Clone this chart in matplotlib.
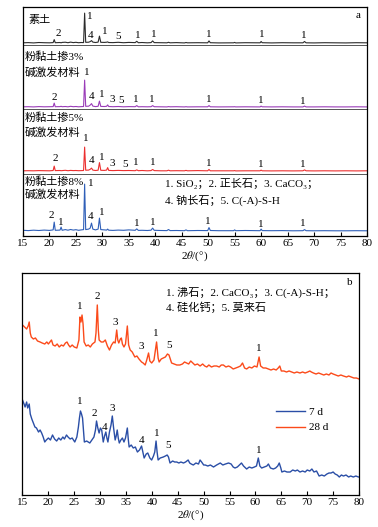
import matplotlib
matplotlib.use('Agg')
import matplotlib.pyplot as plt
import numpy as np

plt.rcParams['font.family'] = ['Liberation Serif', 'Noto Sans CJK SC', 'DejaVu Sans']
plt.rcParams['mathtext.fontset'] = 'stix'

# ---- panel a: XRD patterns (peak height above each baseline) ----
two_theta_a = [15, 16, 17, 18, 19, 20, 20.7, 20.9, 21.1, 22.0,
               22.2, 22.4, 23.0, 23.5, 24.0, 24.5, 25.0, 25.5, 26.0, 26.45,
               26.65, 26.85, 27.4, 27.7, 27.95, 28.2, 28.7, 29.2, 29.45, 29.7,
               30.4, 30.8, 31.0, 31.2, 32.0, 33.0, 34.0, 35.0, 36.2, 36.5,
               36.8, 37.5, 38.5, 39.2, 39.5, 39.8, 41.0, 42.2, 42.5, 42.8,
               44.0, 45.5, 45.8, 46.1, 48.0, 49.9, 50.15, 50.4, 52.0, 54.8,
               55.0, 55.2, 57.0, 59.8, 60.0, 60.2, 62.0, 64.0, 66.0, 67.9,
               68.2, 68.5, 70.0, 72.0, 74.0, 76.0, 78.0, 80.0]

soil = [0.3, 0.5, 0.2, 0.6, 0.4, 0.3, 0.5, 3.5, 0.4, 0.6,
        0.3, 0.7, 0.9, 0.4, 1.0, 0.5, 0.8, 0.4, 0.6, 0.5,
        30, 0.8, 0.9, 1.5, 2.5, 1.0, 0.6, 1.0, 7.0, 0.8,
        0.7, 0.9, 1.2, 0.6, 0.5, 0.8, 0.4, 0.7, 0.5, 1.8,
        0.4, 0.6, 0.3, 0.5, 2.2, 0.5, 0.4, 0.3, 0.8, 0.3,
        0.5, 0.2, 0.6, 0.3, 0.4, 0.3, 2.2, 0.4, 0.2, 0.3,
        0.7, 0.2, 0.4, 0.3, 1.6, 0.4, 0.2, 0.4, 0.3, 0.3,
        1.6, 0.3, 0.2, 0.4, 0.3, 0.2, 0.4, 0.3]

mix3 = [0.3, 0.4, 0.2, 0.5, 0.3, 0.4, 0.5, 4.0, 0.4, 0.5,
        0.8, 0.4, 0.6, 0.3, 0.8, 0.4, 0.6, 0.3, 0.5, 0.6,
        27, 0.8, 0.9, 2.0, 3.5, 1.0, 0.5, 0.8, 6.0, 0.7,
        0.6, 0.8, 2.2, 0.6, 0.4, 0.6, 0.3, 0.5, 0.4, 1.5,
        0.3, 0.4, 0.3, 0.4, 1.5, 0.4, 0.3, 0.2, 0.5, 0.3,
        0.4, 0.2, 0.4, 0.2, 0.3, 0.3, 1.5, 0.3, 0.2, 0.3,
        0.4, 0.2, 0.3, 0.2, 1.0, 0.3, 0.2, 0.3, 0.2, 0.2,
        1.0, 0.2, 0.2, 0.3, 0.2, 0.2, 0.3, 0.2]

mix5 = [0.3, 0.4, 0.3, 0.5, 0.4, 0.3, 0.6, 5.0, 0.5, 0.6,
        0.4, 0.5, 0.8, 0.4, 0.7, 0.5, 0.6, 0.4, 0.5, 0.6,
        24, 0.9, 1.0, 1.8, 3.0, 1.0, 0.6, 0.9, 8.5, 0.8,
        0.7, 1.0, 3.5, 0.7, 0.5, 0.7, 0.5, 0.6, 0.4, 1.2,
        0.4, 0.6, 0.3, 0.5, 1.6, 0.5, 0.3, 0.3, 0.9, 0.3,
        0.4, 0.3, 0.7, 0.3, 0.5, 0.3, 1.6, 0.3, 0.3, 0.3,
        0.5, 0.2, 0.3, 0.3, 1.0, 0.3, 0.2, 0.3, 0.2, 0.3,
        1.2, 0.3, 0.2, 0.3, 0.2, 0.3, 0.2, 0.3]

mix8 = [0.8, 0.5, 0.9, 0.6, 1.0, 0.7, 1.2, 9.0, 0.8, 1.0,
        4.0, 0.8, 1.5, 0.9, 1.6, 1.0, 1.4, 0.8, 1.2, 1.5,
        47, 1.5, 2.0, 3.0, 8.0, 2.0, 1.2, 2.0, 13.0, 1.5,
        1.2, 1.0, 2.0, 0.9, 0.7, 1.0, 0.8, 1.2, 0.8, 2.2,
        0.7, 0.8, 0.6, 0.9, 3.0, 0.8, 0.6, 0.5, 1.6, 0.5,
        0.6, 0.4, 1.2, 0.4, 0.6, 0.5, 3.5, 0.6, 0.4, 0.4,
        1.2, 0.4, 0.6, 0.4, 2.0, 0.5, 0.4, 0.5, 0.3, 0.4,
        1.5, 0.4, 0.3, 0.4, 0.3, 0.3, 0.4, 0.3]

# ---- panel b: (2theta, intensity) ----
day28 = [(15.0, 170), (15.4, 168), (15.8, 166), (16.1, 169), (16.3, 173), (16.5, 162),
         (16.7, 158), (17.1, 156), (17.5, 157), (17.9, 154), (18.4, 153), (18.8, 152),
         (19.3, 151), (19.7, 153), (20.0, 151), (20.3, 153), (20.6, 155), (20.9, 150),
         (21.3, 149), (21.7, 151), (22.1, 148), (22.5, 150), (22.9, 149), (23.3, 152),
         (23.6, 153), (23.9, 150), (24.2, 148), (24.6, 150), (25.0, 148), (25.5, 147),
         (25.9, 155), (26.1, 178), (26.3, 173), (26.5, 180), (26.7, 171), (26.9, 153),
         (27.3, 149), (27.7, 150), (28.1, 148), (28.5, 151), (29.0, 153), (29.2, 162),
         (29.45, 190), (29.65, 165), (29.8, 155), (30.2, 153), (30.6, 153), (31.0, 155),
         (31.4, 149), (31.8, 145), (32.2, 150), (32.6, 153), (32.9, 152), (33.2, 165),
         (33.4, 155), (33.6, 152), (33.9, 156), (34.1, 157), (34.3, 151), (34.6, 148),
         (34.9, 151), (35.25, 169), (35.5, 150), (35.8, 145), (36.2, 143), (36.7, 138),
         (37.1, 139), (37.5, 136), (38.0, 133), (38.3, 132), (38.7, 130), (39.0, 135),
         (39.35, 142), (39.6, 134), (39.95, 132), (40.4, 135), (40.9, 153), (41.2, 137),
         (41.4, 133), (41.8, 136), (42.2, 137), (42.6, 138), (43.0, 141), (43.3, 140),
         (43.6, 135), (43.8, 132), (44.3, 131), (44.8, 130), (45.4, 130), (45.9, 131),
         (46.3, 133), (46.7, 132), (47.1, 131), (47.5, 134), (47.9, 132), (48.3, 130),
         (48.8, 131), (49.3, 129), (49.8, 131), (50.2, 129), (50.6, 128), (51.0, 130),
         (51.5, 128), (52.0, 129), (52.5, 129), (53.0, 128), (53.4, 130), (53.8, 130),
         (54.3, 128), (54.8, 129), (55.2, 128), (55.7, 126), (56.2, 127), (56.7, 128),
         (57.1, 129), (57.5, 132), (57.9, 127), (58.3, 126), (58.8, 128), (59.3, 127),
         (59.8, 129), (60.3, 128), (60.7, 138), (61.0, 129), (61.5, 127), (62.0, 127),
         (62.5, 126), (63.0, 125), (63.5, 126), (64.0, 125), (64.4, 127), (64.7, 129),
         (65.0, 124), (65.5, 124), (66.0, 123), (66.5, 124), (67.0, 123), (67.5, 122),
         (68.0, 123), (68.6, 122), (69.1, 123), (69.6, 122), (70.1, 123), (70.5, 124),
         (70.8, 123), (71.2, 122), (71.7, 121), (72.2, 122), (72.7, 121), (73.2, 120),
         (73.7, 121), (74.2, 120), (74.6, 122), (75.0, 121), (75.5, 120), (76.0, 119),
         (76.5, 120), (77.0, 119), (77.6, 118), (78.0, 119), (78.5, 118), (79.0, 117),
         (79.5, 117), (80.0, 116)]

day7 = [(15.0, 95), (15.3, 91), (15.5, 88), (15.8, 93), (16.0, 87), (16.3, 91),
        (16.5, 81), (16.8, 76), (17.1, 72), (17.4, 68), (17.7, 67), (18.1, 63),
        (18.4, 65), (18.7, 62), (19.0, 58), (19.3, 53), (19.6, 55), (20.0, 57),
        (20.4, 55), (20.8, 60), (21.2, 56), (21.6, 54), (22.0, 57), (22.4, 55),
        (22.8, 58), (23.1, 56), (23.5, 60), (23.8, 58), (24.2, 56), (24.6, 57),
        (25.1, 53), (25.5, 58), (25.8, 68), (26.0, 77), (26.2, 84), (26.4, 81),
        (26.6, 77), (26.8, 63), (26.95, 53), (27.4, 54), (28.0, 52), (28.4, 55),
        (28.8, 58), (29.1, 65), (29.3, 74), (29.55, 67), (29.8, 62), (30.05, 67),
        (30.3, 65), (30.6, 53), (30.85, 59), (31.1, 63), (31.3, 57), (31.5, 53),
        (31.8, 63), (32.1, 70), (32.35, 79), (32.6, 67), (32.9, 55), (33.1, 59),
        (33.3, 65), (33.5, 57), (33.7, 52), (34.0, 55), (34.3, 57), (34.6, 53),
        (34.9, 57), (35.25, 67), (35.45, 55), (35.6, 48), (36.0, 50), (36.4, 47),
        (36.8, 48), (37.2, 43), (37.6, 45), (38.0, 49), (38.25, 43), (38.5, 37),
        (38.9, 41), (39.2, 42), (39.6, 37), (39.95, 35), (40.3, 39), (40.55, 43),
        (40.8, 54), (41.0, 43), (41.2, 35), (41.6, 37), (42.2, 38), (42.6, 39),
        (42.95, 40), (43.2, 38), (43.5, 32), (44.0, 34), (44.4, 33), (44.8, 33),
        (45.2, 32), (45.6, 33), (46.1, 32), (46.5, 33), (47.0, 35), (47.3, 32),
        (47.6, 31), (48.0, 30), (48.5, 32), (49.0, 31), (49.3, 35), (49.6, 33),
        (50.0, 30), (50.3, 30), (50.8, 29), (51.3, 30), (51.9, 28), (52.5, 30),
        (53.2, 32), (53.7, 30), (54.2, 31), (54.8, 32), (55.3, 31), (55.7, 28),
        (56.05, 27), (56.5, 28), (56.9, 30), (57.3, 32), (57.7, 29), (58.3, 26),
        (58.8, 28), (59.3, 27), (59.8, 28), (60.2, 29), (60.55, 37), (60.85, 29),
        (61.2, 27), (61.7, 28), (62.2, 29), (62.5, 31), (62.9, 27), (63.45, 26),
        (63.9, 27), (64.3, 29), (64.6, 32), (64.9, 27), (65.1, 23), (65.6, 24),
        (66.1, 23), (66.7, 23), (67.2, 25), (67.7, 24), (68.1, 25), (68.6, 23),
        (69.1, 24), (69.6, 23), (70.0, 25), (70.5, 24), (70.9, 26), (71.3, 23),
        (71.8, 24), (72.3, 19), (72.8, 20), (73.3, 19), (73.8, 21), (74.2, 22),
        (74.6, 22), (75.0, 23), (75.4, 21), (75.8, 20), (76.2, 18), (76.6, 20),
        (77.0, 19), (77.5, 20), (78.0, 18), (78.4, 19), (78.9, 18), (79.4, 19),
        (79.9, 18), (80.0, 18)]

xticks = list(range(15, 81, 5))
FS = 8

fig = plt.figure(figsize=(3.78, 5.27), dpi=100)

# ================= panel a =================
ax = fig.add_axes([0.0608, 0.552, 0.910, 0.4345])
baselines = [193, 129, 65, 5]
colors_a = ['#2b2b2b', '#9a3cb8', '#ec2f2f', '#2f5fb8']
for ys, base, c in zip([soil, mix3, mix5, mix8], baselines, colors_a):
    ax.plot(two_theta_a, np.array(ys) + base, color=c, lw=0.8)
for sep in [191, 127, 62]:
    ax.axhline(sep, color='#555555', lw=0.7)

peak_labels_a = [
    # (2theta, y, text)
    [(27.7, 220, '1'), (21.6, 203, '2'), (27.85, 201, '4'), (30.5, 205, '1'),
     (32.95, 200, '5'), (36.7, 201, '1'), (39.75, 202, '1'), (50.1, 202, '1'),
     (60.2, 202, '1'), (68.1, 201, '1')],
    [(27.1, 164, '1'), (21.0, 139, '2'), (28.0, 140, '4'), (29.9, 142, '1'),
     (31.9, 137, '3'), (33.6, 136, '5'), (36.4, 137, '1'), (39.4, 137, '1'),
     (50.1, 137, '1'), (59.9, 136, '1'), (67.9, 135, '1')],
    [(26.9, 98, '1'), (21.2, 78, '2'), (28.0, 76, '4'), (29.8, 79, '1'),
     (31.8, 73, '3'), (34.3, 72, '5'), (36.4, 74, '1'), (39.6, 74, '1'),
     (50.1, 73, '1'), (59.9, 72, '1'), (67.9, 72, '1')],
    [(27.8, 53, '1'), (20.3, 21, '2'), (22.2, 14, '1'), (27.8, 20, '4'),
     (29.9, 24, '1'), (36.5, 13, '1'), (39.5, 14, '1'), (50.0, 15, '1'),
     (59.9, 12, '1'), (67.9, 13, '1')],
]
for labs in peak_labels_a:
    for x, y, t in labs:
        ax.text(x, y, t, fontsize=FS, ha='center', va='center')

ax.text(0.015, 0.943, '素土', transform=ax.transAxes, fontsize=FS, va='center')
ax.text(0.98, 0.965, 'a', transform=ax.transAxes, fontsize=FS, ha='right', va='center')
for frac_y, txt in [(0.782, '粉黏土掺3%'), (0.716, '碱激发材料'),
                    (0.515, '粉黏土掺5%'), (0.454, '碱激发材料'),
                    (0.236, '粉黏土掺8%'), (0.183, '碱激发材料')]:
    ax.text(0.005, frac_y, txt, transform=ax.transAxes, fontsize=FS, va='center')
ax.text(0.413, 0.231, '1. SiO₂；2. 正长石；3. CaCO₃；', transform=ax.transAxes,
        fontsize=FS, va='center')
ax.text(0.413, 0.157, '4. 钠长石；5. C(-A)-S-H', transform=ax.transAxes,
        fontsize=FS, va='center')

ax.set_xlim(15, 80)
ax.set_ylim(0, 229)
ax.set_xticks(xticks)
ax.set_yticks([])
ax.tick_params(axis='x', direction='in', length=3, labelsize=FS, pad=2)
ax.set_xlabel(r'2$\theta$/(°)', fontsize=FS, labelpad=1)
for s in ax.spines.values():
    s.set_linewidth(0.9)

# ================= panel b =================
bx = fig.add_axes([0.0595, 0.0607, 0.8902, 0.4213])
x28, y28 = zip(*day28)
x7, y7 = zip(*day7)
bx.plot(x7, y7, color='#2a4ea6', lw=1.0, label='7 d')
bx.plot(x28, y28, color='#fb4a1a', lw=1.0, label='28 d')

peak_labels_b = [
    (26.1, 188, '1'), (29.5, 198, '2'), (32.9, 172, '3'), (38.0, 148, '3'),
    (40.7, 161, '1'), (43.4, 149, '5'), (60.7, 146, '1'),
    (26.1, 94, '1'), (28.8, 82, '2'), (30.9, 68, '4'), (32.4, 87, '3'),
    (38.0, 55, '4'), (40.9, 62, '1'), (43.2, 50, '5'), (60.7, 45, '1'),
]
for x, y, t in peak_labels_b:
    bx.text(x, y, t, fontsize=FS, ha='center', va='center')

bx.text(0.426, 0.914, '1. 沸石；2. CaCO₃；3. C(-A)-S-H；', transform=bx.transAxes,
        fontsize=FS, va='center')
bx.text(0.426, 0.847, '4. 硅化钙；5. 莫来石', transform=bx.transAxes,
        fontsize=FS, va='center')
bx.text(0.98, 0.955, 'b', transform=bx.transAxes, fontsize=FS, ha='right', va='center')
bx.legend(loc='upper left', bbox_to_anchor=(0.74, 0.415), frameon=False, fontsize=FS,
          handlelength=2.6, handletextpad=0.4, labelspacing=0.5, borderaxespad=0)

bx.set_xlim(15, 80)
bx.set_ylim(0, 222)
bx.set_xticks(xticks)
bx.set_yticks([])
bx.tick_params(axis='x', direction='in', length=3, labelsize=FS, pad=2)
bx.set_xlabel(r'2$\theta$/(°)', fontsize=FS, labelpad=1)
for s in bx.spines.values():
    s.set_linewidth(0.9)

fig.savefig('out.png', dpi=100)
